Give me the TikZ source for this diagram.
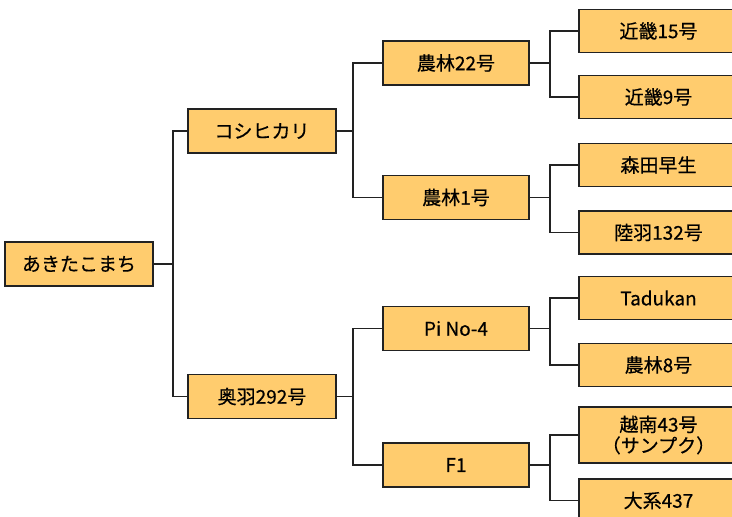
\documentclass[tikz,border=0pt]{standalone}
\usepackage{fontspec}
\setmainfont{Noto Sans CJK JP}[FakeBold=0.5]
\definecolor{boxfill}{RGB}{255,204,110}
\definecolor{edgec}{RGB}{34,34,34}
\begin{document}
\begin{tikzpicture}[x=1pt,y=-1pt,
  box/.style={draw=edgec,fill=boxfill,line width=1.6pt,inner sep=0pt,
    font=\fontsize{19}{21}\selectfont,align=center},
  b0/.style={box,minimum width=148pt,minimum height=44pt},
  b1/.style={box,minimum width=148pt,minimum height=44pt},
  b2/.style={box,minimum width=146pt,minimum height=44pt},
  b3/.style={box,minimum width=159pt,minimum height=43pt},
  conn/.style={draw=edgec,line width=1.6pt}]
\clip (0,0) rectangle (732,517);
\fill[white] (0,0) rectangle (732,517);
% level 0
\node[b0] (root) at (79,264) {あきたこまち};
% level 1
\node[b1] (koshi) at (262,131) {コシヒカリ};
\node[b1] (ou) at (262,396.5) {奥羽292号};
% level 2
\node[b2] (n22) at (456,63) {農林22号};
\node[b2] (n1) at (456,197.5) {農林1号};
\node[b2] (pino) at (456,328.5) {Pi No-4};
\node[b2] (f1) at (456,465) {F1};
% level 3
\node[b3] (k15) at (658.5,31) {近畿15号};
\node[b3] (k9) at (658.5,97) {近畿9号};
\node[b3] (mori) at (658.5,165) {森田早生};
\node[b3] (riku) at (658.5,232.5) {陸羽132号};
\node[b3] (tadu) at (658.5,298) {Tadukan};
\node[b3] (n8) at (658.5,365) {農林8号};
\node[b3,minimum height=56pt] (etsu) at (658.5,435) {越南43号\\（サンプク）};
\node[b3] (tai) at (658.5,500.5) {大系437};
% connectors
\draw[conn] (root.east) -- ++(19,0) coordinate (fa);
\draw[conn] (fa) |- (koshi.west);
\draw[conn] (fa) |- (ou.west);
\draw[conn] (koshi.east) -- ++(16,0) coordinate (fb);
\draw[conn] (fb) |- (n22.west);
\draw[conn] (fb) |- (n1.west);
\draw[conn] (ou.east) -- ++(16,0) coordinate (fc);
\draw[conn] (fc) |- (pino.west);
\draw[conn] (fc) |- (f1.west);
\draw[conn] (n22.east) -- ++(20,0) coordinate (fd);
\draw[conn] (fd) |- (k15.west);
\draw[conn] (fd) |- (k9.west);
\draw[conn] (n1.east) -- ++(20,0) coordinate (fe);
\draw[conn] (fe) |- (mori.west);
\draw[conn] (fe) |- (riku.west);
\draw[conn] (pino.east) -- ++(20,0) coordinate (ff);
\draw[conn] (ff) |- (tadu.west);
\draw[conn] (ff) |- (n8.west);
\draw[conn] (f1.east) -- ++(20,0) coordinate (fg);
\draw[conn] (fg) |- (etsu.west);
\draw[conn] (fg) |- (tai.west);
\end{tikzpicture}
\end{document}
